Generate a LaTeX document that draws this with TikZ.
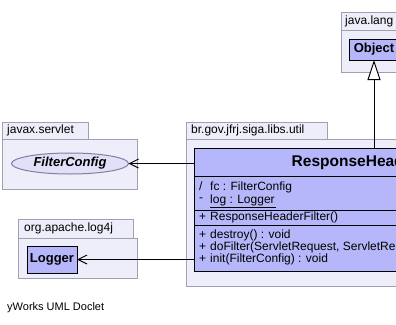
\documentclass[tikz,border=0pt]{standalone}
\usepackage{fontspec}
\setmainfont{Liberation Sans}
\usetikzlibrary{arrows.meta,shapes.geometric}
\definecolor{pkgfill}{RGB}{238,238,250}
\definecolor{pkgline}{RGB}{160,160,176}
\definecolor{classfill}{RGB}{182,182,250}
\definecolor{ifacefill}{RGB}{224,224,248}
\definecolor{ifaceline}{RGB}{128,128,160}
\tikzset{
  pkgbox/.style={draw=pkgline, fill=pkgfill, line width=1pt, inner sep=0pt,
    outer sep=0pt, anchor=north west},
  pkglabel/.style={anchor=west, inner sep=0pt, font=\fontsize{12}{14}\selectfont},
  classbox/.style={draw=black, fill=classfill, line width=1pt, inner sep=0pt,
    outer sep=0pt},
  refclass/.style={classbox, minimum width=50pt, minimum height=24pt,
    font=\bfseries\fontsize{13}{15}\selectfont},
  iface/.style={ellipse, draw=ifaceline, fill=ifacefill, line width=1pt,
    inner sep=0pt, outer sep=0pt, minimum width=117pt, minimum height=21pt,
    font=\bfseries\itshape\fontsize{13}{15}\selectfont},
  member/.style={anchor=west, inner sep=0pt, font=\fontsize{12}{14}\selectfont},
  sepline/.style={draw=black, line width=1pt},
  assoc/.style={line width=1pt, -{Straight Barb[length=9pt,width=9pt,line width=1pt]}},
  inherit/.style={line width=1pt, -{Triangle[open,length=20pt,width=13pt,fill=white,line width=1pt]}},
  caption/.style={anchor=west, inner sep=0pt, font=\fontsize{11}{13}\selectfont}
}
\begin{document}
\begin{tikzpicture}[x=1pt,y=-1pt]
\clip (0,0) rectangle (396,324);
\fill[white] (0,0) rectangle (396,324);

% package java.lang
\node[pkgbox, minimum width=62pt, minimum height=18pt] (langtab) at (341,12) {};
\node[pkglabel] (langname) at (345,21) {java.lang};
\node[pkgbox, minimum width=72pt, minimum height=42pt] (langpkg) at (341,30) {};
\node[refclass, minimum height=21pt] (object) at (374,49.5) {Object};

% package javax.servlet
\node[pkgbox, minimum width=86pt, minimum height=17pt] (servlettab) at (2,122) {};
\node[pkglabel] (servletname) at (7,130.5) {javax.servlet};
\node[pkgbox, minimum width=135pt, minimum height=50pt] (servletpkg) at (2,139) {};
\node[iface] (filterconfig) at (70,163.5) {FilterConfig};

% package org.apache.log4j
\node[pkgbox, minimum width=115pt, minimum height=19pt] (logtab) at (18,219) {};
\node[pkglabel] (logname) at (24,228.5) {org.apache.log4j};
\node[pkgbox, minimum width=119pt, minimum height=40pt] (logpkg) at (18,238) {};
\node[refclass, minimum height=27pt] (logger) at (52,259.5) {Logger};

% package br.gov.jfrj.siga.libs.util
\node[pkgbox, minimum width=141pt, minimum height=17pt] (utiltab) at (186,122) {};
\node[pkglabel] (utilname) at (191,130.5) {br.gov.jfrj.siga.libs.util};
\node[pkgbox, minimum width=320pt, minimum height=147pt] (utilpkg) at (186,139) {};

% class ResponseHeaderFilter
\node[classbox, anchor=north west, minimum width=360pt, minimum height=123pt] (filter) at (194,148) {};
\node[inner sep=0pt, font=\bfseries\fontsize{15.5}{18}\selectfont] (filtertitle) at (374,162) {ResponseHeaderFilter};
\draw[sepline] (194,176) -- (554,176);
\draw[sepline] (194,210) -- (554,210);
\draw[sepline] (194,225) -- (554,225);

\node[member] (a1v) at (199,186.5) {/};
\node[member] (a1) at (210,187) {fc : FilterConfig};
\node[member] (a2v) at (199,200) {-};
\node[member] (a2) at (210,200) {log : Logger};
\draw[line width=1pt] (a2.south west) ++(0,1.5) -- ++(66,0);
\node[member] (c1v) at (199,217.5) {+};
\node[member] (c1) at (210,217.5) {ResponseHeaderFilter()};
\node[member] (o1v) at (199,235.5) {+};
\node[member] (o1) at (210,235.5) {destroy() : void};
\node[member] (o2v) at (199,247.5) {+};
\node[member] (o2) at (210,247.5) {doFilter(ServletRequest, ServletResponse, FilterChain) : void};
\node[member] (o3v) at (199,259.5) {+};
\node[member] (o3) at (210,259.5) {init(FilterConfig) : void};

% relations
\draw[inherit] (filter.north -| object.south) -- (object.south);
\draw[assoc] (filter.west |- filterconfig.east) -- (filterconfig.east);
\draw[assoc] (filter.west |- logger.east) -- (logger.east);

\node[caption] (doclet) at (7,308) {yWorks UML Doclet};
\end{tikzpicture}
\end{document}
